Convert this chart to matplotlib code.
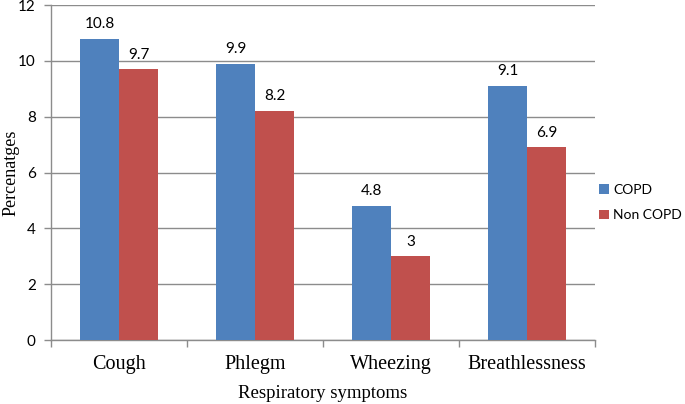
import numpy as np
import matplotlib.pyplot as plt

# Respiratory symptoms, % by group
symptoms = ['Cough', 'Phlegm', 'Wheezing', 'Breathlessness']
copd = [10.8, 9.9, 4.8, 9.1]
non_copd = [9.7, 8.2, 3, 6.9]
y_ticks = [0, 2, 4, 6, 8, 10, 12]

blue = '#4F81BD'
red = '#C0504D'
grid_col = '#8C8C8C'

fig = plt.figure(figsize=(6.85, 4.04), dpi=100)
ax = fig.add_axes([0.0745, 0.1584, 0.7941, 0.8292])

bar_width = 0.286
index = np.arange(len(symptoms))
b1 = ax.bar(index - bar_width / 2, copd, bar_width, color=blue, label='COPD', zorder=3)
b2 = ax.bar(index + bar_width / 2, non_copd, bar_width, color=red, label='Non COPD', zorder=3)

# data labels above bars
for bars, vals in [(b1, copd), (b2, non_copd)]:
    for rect, v in zip(bars, vals):
        ax.annotate(f'{v:g}', (rect.get_x() + rect.get_width() / 2, v),
                    xytext=(0, 5.5), textcoords='offset points',
                    ha='center', va='bottom', fontsize=11, family='Lato')

ax.set_xlim(-0.5, len(symptoms) - 0.5)
ax.set_ylim(0, 12)
ax.set_yticks(y_ticks)
ax.set_yticklabels([str(t) for t in y_ticks], family='Lato', fontsize=11)
ax.yaxis.grid(True, color=grid_col, linewidth=1, zorder=0)

# category labels centered, tick marks at boundaries
ax.set_xticks(index)
ax.set_xticklabels(symptoms, family='Liberation Serif', fontsize=14.5)
ax.tick_params(axis='x', which='major', length=0, pad=11)
ax.set_xticks(np.arange(len(symptoms) + 1) - 0.5, minor=True)
ax.tick_params(axis='x', which='minor', length=5, color=grid_col, width=1, direction='out')
ax.tick_params(axis='y', length=5, color=grid_col, width=1, direction='out', pad=6)

for side in ['top', 'right']:
    ax.spines[side].set_visible(False)
for side in ['left', 'bottom']:
    ax.spines[side].set_color(grid_col)
    ax.spines[side].set_linewidth(1)

ax.set_xlabel('Respiratory symptoms', family='Liberation Serif', fontsize=13.5, labelpad=8)
ax.set_ylabel('Percenatges', family='Liberation Serif', fontsize=13)
ax.yaxis.set_label_coords(-0.058, 0.5)

leg = ax.legend(loc='center left', bbox_to_anchor=(1.0, 0.41), frameon=False,
                prop={'family': 'Lato', 'size': 10},
                handlelength=0.7, handleheight=0.7, handletextpad=0.3, labelspacing=0.95,
                borderaxespad=0.1, borderpad=0.2)

fig.savefig('out.png', dpi=100)
